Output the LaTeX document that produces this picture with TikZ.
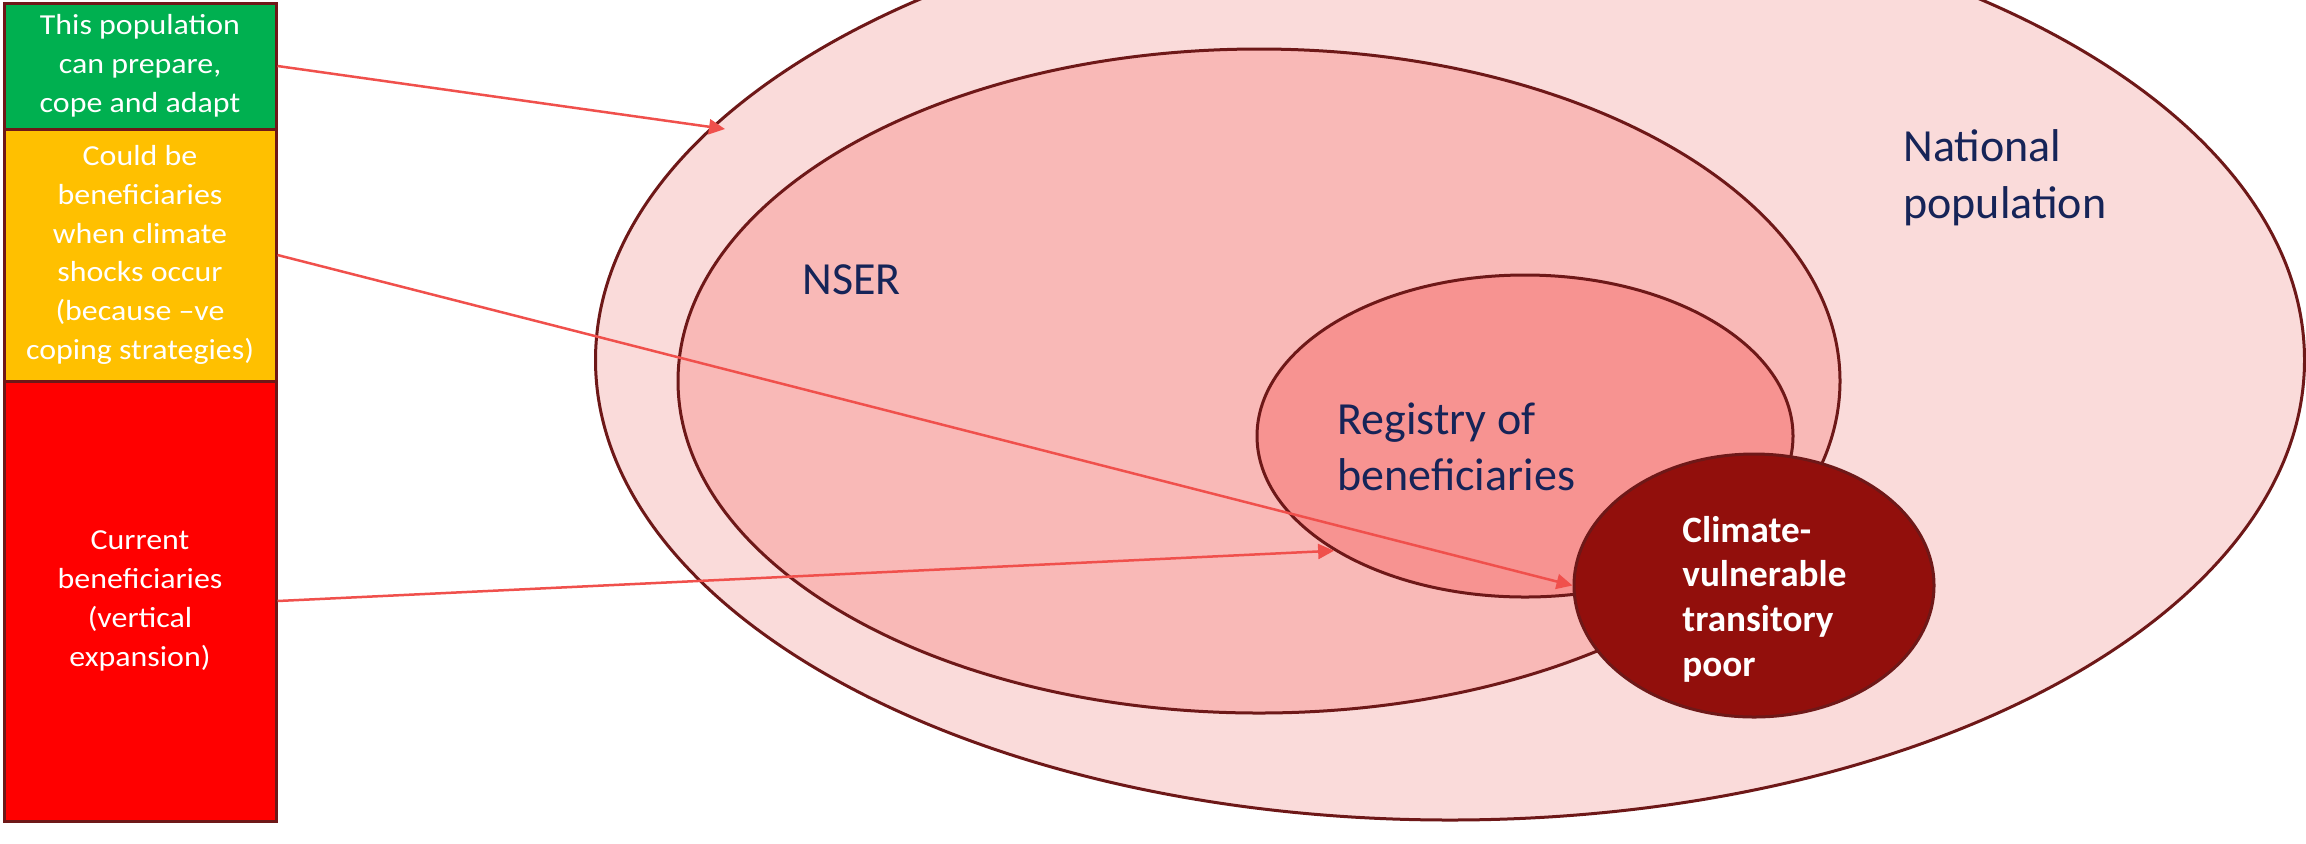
\documentclass[tikz,border=0pt]{standalone}
\usepackage{fontspec}
\setmainfont{Carlito}
\newfontfamily\boxfont[FakeStretch=1.1]{Carlito}
\usetikzlibrary{shapes.geometric,arrows.meta}
\definecolor{outline}{RGB}{110,24,24}
\definecolor{natfill}{RGB}{250,219,218}
\definecolor{nserfill}{RGB}{249,185,183}
\definecolor{regfill}{RGB}{247,147,145}
\definecolor{climfill}{RGB}{146,15,12}
\definecolor{boxgreen}{RGB}{0,176,80}
\definecolor{boxyellow}{RGB}{255,192,0}
\definecolor{boxred}{RGB}{255,0,0}
\definecolor{arrowred}{RGB}{240,80,76}
\definecolor{navy}{RGB}{22,36,88}
\begin{document}
\begin{tikzpicture}[x=0.5pt,y=-0.5pt,
  sidebox/.style={draw=outline, line width=1.5pt, rectangle, minimum width=136pt,
    inner sep=0pt, text=white, align=center, font=\boxfont\fontsize{14.5}{19.4}\selectfont},
  blob/.style={ellipse, draw=outline, line width=1.5pt, inner sep=0pt},
  biglabel/.style={text=navy, inner sep=0pt, align=left, font=\fontsize{23}{28.3}\selectfont},
  conn/.style={draw=arrowred, line width=1.25pt, -{Triangle[length=8pt,width=7.5pt]}}
]
\useasboundingbox (0,0) rectangle (2306,843);
\fill[white] (0,0) rectangle (2306,843);
\begin{scope}
\clip (0,0) rectangle (2306,843);
\node[blob, fill=natfill, minimum width=854.5pt, minimum height=460pt] (nat) at (1450,360) {};
\node[blob, fill=nserfill, minimum width=581pt, minimum height=332pt] (nser) at (1259,381) {};
\node[blob, fill=regfill, minimum width=268pt, minimum height=161pt] (reg) at (1525,436) {};
\node[blob, fill=climfill, minimum width=180pt, minimum height=131.5pt] (clim) at (1754,585.5) {};
\end{scope}

\node[sidebox, fill=boxgreen, minimum height=63pt] (g) at (140,66)
  {This population\\can prepare,\\cope and adapt};
\node[sidebox, fill=boxyellow, minimum height=126pt] (y) at (140,255)
  {Could be\\beneficiaries\\when climate\\shocks occur\\(because –ve\\coping strategies)};
\node[sidebox, fill=boxred, minimum height=220pt] (r) at (140,601)
  {Current\\beneficiaries\\(vertical\\expansion)};

\node[biglabel, anchor=west] (natlab) at (1903,178) {National\\population};
\node[biglabel, anchor=base west] (nserlab) at (802,294) {NSER};
\node[biglabel, anchor=west] (reglab) at (1337,447) {Registry of\\beneficiaries};
\node[text=white, inner sep=0pt, align=left, anchor=west,
  font=\bfseries\fontsize{18.6}{22.3}\selectfont] (climlab) at (1682,599)
  {Climate-\\vulnerable\\transitory\\poor};

\coordinate (natin) at (725,129);
\draw[conn] (g.east) -- (natin);
\draw[conn] (y.east) -- (clim.west);
\draw[conn] (r.east) -- (reg.211);
\end{tikzpicture}
\end{document}
